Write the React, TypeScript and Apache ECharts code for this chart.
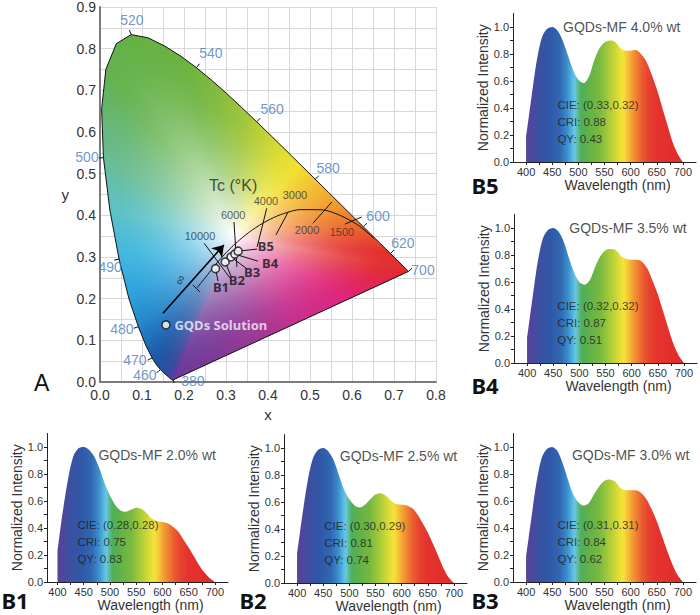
import React, { useEffect, useRef } from 'react';
import * as echarts from 'echarts';

// ---------- CIE 1931 spectral locus (wavelength, x, y) ----------
const locusWl = [380,385,390,395,400,405,410,415,420,425,430,435,440,445,450,455,460,465,470,475,480,485,490,495,500,505,510,515,520,525,530,535,540,545,550,555,560,565,570,575,580,585,590,595,600,605,610,615,620,625,630,635,640,645,650,655,660,665,670,675,680,685,690,695,700];
const locusX = [0.1741,0.1740,0.1738,0.1736,0.1733,0.1730,0.1726,0.1721,0.1714,0.1703,0.1689,0.1669,0.1644,0.1611,0.1566,0.1510,0.1440,0.1355,0.1241,0.1096,0.0913,0.0687,0.0454,0.0235,0.0082,0.0039,0.0139,0.0389,0.0743,0.1142,0.1547,0.1929,0.2296,0.2658,0.3016,0.3373,0.3731,0.4087,0.4441,0.4788,0.5125,0.5448,0.5752,0.6029,0.6270,0.6482,0.6658,0.6801,0.6915,0.7006,0.7079,0.7140,0.7190,0.7230,0.7260,0.7283,0.7300,0.7311,0.7320,0.7327,0.7334,0.7340,0.7344,0.7346,0.7347];
const locusY = [0.0050,0.0050,0.0049,0.0049,0.0048,0.0048,0.0048,0.0048,0.0051,0.0058,0.0069,0.0086,0.0109,0.0138,0.0177,0.0227,0.0297,0.0399,0.0578,0.0868,0.1327,0.2007,0.2950,0.4127,0.5384,0.6548,0.7502,0.8120,0.8338,0.8262,0.8059,0.7816,0.7543,0.7243,0.6923,0.6589,0.6245,0.5896,0.5547,0.5202,0.4866,0.4544,0.4242,0.3965,0.3725,0.3514,0.3340,0.3197,0.3083,0.2993,0.2920,0.2859,0.2809,0.2770,0.2740,0.2717,0.2700,0.2689,0.2680,0.2673,0.2666,0.2660,0.2656,0.2654,0.2653];

// wavelength labels on the locus
const wlLabels = ['380','460','470','480','490','500','520','540','560','580','600','620','700'];
const wlLabelX = [0.221,0.107,0.083,0.052,0.024,-0.031,0.076,0.264,0.410,0.543,0.662,0.721,0.769];
const wlLabelY = [0.002,0.017,0.053,0.127,0.276,0.540,0.868,0.789,0.655,0.513,0.398,0.333,0.269];

// Planckian locus (from infinity down to 1000 K)
const planckX = [0.231,0.2525,0.2565,0.2637,0.2807,0.2952,0.3064,0.3135,0.3221,0.3325,0.3451,0.3608,0.3805,0.4053,0.4369,0.4770,0.5267,0.5540,0.5857,0.6184,0.6528];
const planckY = [0.226,0.2524,0.2577,0.2674,0.2884,0.3048,0.3166,0.3237,0.3318,0.3411,0.3516,0.3636,0.3768,0.3907,0.4041,0.4137,0.4133,0.4070,0.3931,0.3736,0.3444];

// isotemperature ticks
const isoNames = ['∞','10000','6000','4000','3000','2000','1500'];
const isoX1 = [0.221,0.248,0.319,0.397,0.448,0.552,0.623];
const isoY1 = [0.233,0.333,0.384,0.417,0.408,0.432,0.396];
const isoX2 = [0.238,0.310,0.326,0.374,0.419,0.507,0.583];
const isoY2 = [0.216,0.249,0.276,0.324,0.353,0.381,0.379];
const isoLabelX = [0.190,0.238,0.317,0.395,0.464,0.493,0.576];
const isoLabelY = [0.245,0.350,0.400,0.434,0.448,0.365,0.360];

// samples
const sampleNames = ['B1','B2','B3','B4','B5'];
const sampleX = [0.275,0.298,0.312,0.321,0.329];
const sampleY = [0.272,0.288,0.300,0.307,0.314];
const sampleLabelX = [0.288,0.326,0.362,0.405,0.395];
const sampleLabelY = [0.228,0.245,0.264,0.285,0.326];
const leadX2 = [0.281,0.312,0.348,0.376,0.374];
const leadY2 = [0.242,0.254,0.273,0.290,0.319];
const solutionName = 'GQDs Solution';
const solutionX = [0.157];
const solutionY = [0.137];
const arrowX = [0.150, 0.295];
const arrowY = [0.165, 0.329];

// ---------- Emission spectra ----------
const specWl = [400,405,410,420,430,440,450,460,470,480,490,500,510,520,530,540,550,560,570,580,590,600,610,620,630,640,650,660,670,680,690,700];
const specB1 = [0.23,0.38,0.52,0.76,0.93,0.99,1.0,0.98,0.93,0.84,0.73,0.64,0.57,0.53,0.52,0.535,0.55,0.54,0.51,0.47,0.45,0.445,0.435,0.41,0.375,0.315,0.255,0.19,0.125,0.07,0.03,0];
const specB2 = [0.22,0.36,0.50,0.75,0.92,0.985,1.0,0.975,0.91,0.80,0.69,0.62,0.575,0.56,0.58,0.62,0.655,0.665,0.645,0.61,0.585,0.58,0.575,0.555,0.51,0.445,0.375,0.29,0.20,0.11,0.04,0];
const specB3 = [0.19,0.33,0.47,0.74,0.92,0.985,1.0,0.97,0.88,0.76,0.65,0.59,0.565,0.585,0.65,0.71,0.75,0.76,0.745,0.70,0.68,0.68,0.68,0.66,0.615,0.54,0.45,0.34,0.23,0.13,0.05,0];
const specB4 = [0.185,0.33,0.47,0.74,0.92,0.985,1.0,0.975,0.90,0.78,0.67,0.60,0.58,0.615,0.71,0.79,0.835,0.845,0.835,0.79,0.77,0.765,0.765,0.75,0.70,0.61,0.51,0.385,0.26,0.14,0.055,0];
const specB5 = [0.19,0.33,0.47,0.74,0.92,0.985,1.0,0.975,0.90,0.79,0.68,0.61,0.585,0.63,0.75,0.84,0.885,0.90,0.89,0.845,0.825,0.825,0.83,0.80,0.745,0.65,0.54,0.41,0.28,0.15,0.06,0];
const specAll = [specB1, specB2, specB3, specB4, specB5];

const panelTitles = ['GQDs-MF 2.0% wt','GQDs-MF 2.5% wt','GQDs-MF 3.0% wt','GQDs-MF 3.5% wt','GQDs-MF 4.0% wt'];
const panelCIE = ['(0.28,0.28)','(0.30,0.29)','(0.31,0.31)','(0.32,0.32)','(0.33,0.32)'];
const panelCRI = ['0.75','0.81','0.84','0.87','0.88'];
const panelQY = ['0.83','0.74','0.62','0.51','0.43'];

const xTickValues = [400,425,450,475,500,525,550,575,600,625,650,675,700];
const xLabelValues = [400,450,500,550,600,650,700];
const yTickValues = [0,0.1,0.2,0.3,0.4,0.5,0.6,0.7,0.8,0.9,1.0];
const yLabelValues = [0,0.2,0.4,0.6,0.8,1.0];

// ---------- layout / style ----------
const FONT = "'Liberation Sans', Arial, sans-serif";
const BOLD_FONT = "'Noto Sans', 'Open Sans', sans-serif";
const GRID_A = { left: 100, top: 7, width: 336, height: 375 };
const X_MAX = 0.8, Y_MAX = 0.9;
const PANEL_LAYOUT = [
  { left: 47, top: 433.5, width: 181, xmin: 380, titleX: 590, titleY: 0.94, textX: 437, tag: [15, 600] },
  { left: 284, top: 434.5, width: 183, xmin: 375, titleX: 594, titleY: 0.94, textX: 451, tag: [253, 600] },
  { left: 513, top: 433.5, width: 183, xmin: 375, titleX: 600, titleY: 0.94, textX: 459, tag: [485, 600] },
  { left: 514, top: 214.5, width: 183, xmin: 375, titleX: 593, titleY: 1.0, textX: 457, tag: [485, 385] },
  { left: 513, top: 13.5, width: 183, xmin: 375, titleX: 583, titleY: 1.0, textX: 459, tag: [485, 185] },
];

const SPEC_STOPS: [number, string][] = [
  [400,'#5a4199'],[420,'#3f4ea0'],[445,'#2f58a7'],[465,'#3268b2'],[478,'#3b8ccb'],[487,'#4fb3e0'],[493,'#6cc6e2'],
  [498,'#5dbda0'],[505,'#4faf5c'],[515,'#5cb04a'],[540,'#78b940'],[552,'#98c53c'],[565,'#bdd237'],[577,'#e0dd36'],
  [585,'#f4e43a'],[594,'#f5c236'],[602,'#f3a033'],[612,'#ef7e30'],[622,'#ea5c31'],[635,'#e6412f'],[650,'#e4332d'],[700,'#e22b2b'],
];
const CIE_STOPS: [number, string][] = [
  [380,'#6b3a98'],[420,'#5a3c9c'],[440,'#40469f'],[455,'#2d4f9f'],[465,'#1f55a5'],[472,'#1c5fae'],[478,'#1f7cc4'],
  [483,'#2898d6'],[488,'#34ade0'],[492,'#4fbfe0'],[496,'#62c2c0'],[500,'#68bc94'],[505,'#66b672'],[510,'#63b24f'],
  [520,'#64b143'],[535,'#6ab340'],[545,'#7eba3d'],[555,'#9cc43b'],[562,'#bcd038'],[568,'#dadb33'],[574,'#f1e42f'],
  [580,'#f4c530'],[588,'#f1a02f'],[595,'#ee7e2e'],[603,'#ea5a2e'],[612,'#e63d2e'],[620,'#e4302e'],[700,'#e22a2c'],
];
const PURPLE_STOPS: [number, string][] = [
  [0,'#e22a2c'],[0.1,'#e2264a'],[0.25,'#e0247a'],[0.45,'#c9308e'],[0.65,'#9a3a95'],[0.85,'#7a3a97'],[1,'#6b3a98'],
];
const WX = 0.32, WY = 0.35, PEXP = 1.8;

function hex(h: string): number[] {
  const n = parseInt(h.slice(1), 16);
  return [(n >> 16) & 255, (n >> 8) & 255, n & 255];
}
function sample(stops: [number, string][], v: number): number[] {
  if (v <= stops[0][0]) return hex(stops[0][1]);
  for (let i = 1; i < stops.length; i++) {
    if (v <= stops[i][0]) {
      const t = (v - stops[i - 1][0]) / (stops[i][0] - stops[i - 1][0]);
      const a = hex(stops[i - 1][1]), b = hex(stops[i][1]);
      return a.map((c, k) => c + (b[k] - c) * t);
    }
  }
  return hex(stops[stops.length - 1][1]);
}

function buildCieImage(): string {
  const S = 2;
  const cw = Math.round(GRID_A.width * S), ch = Math.round(GRID_A.height * S);
  const canvas = document.createElement('canvas');
  canvas.width = cw; canvas.height = ch;
  const ctx = canvas.getContext('2d');
  if (!ctx) return '';
  const bx: number[] = [], by: number[] = [], bc: number[][] = [];
  for (let i = 0; i < locusWl.length; i++) {
    bx.push(locusX[i]); by.push(locusY[i]); bc.push(sample(CIE_STOPS, locusWl[i]));
  }
  const last = locusWl.length - 1;
  const NP = 30;
  for (let k = 1; k < NP; k++) {
    const t = k / NP;
    bx.push(locusX[last] + (locusX[0] - locusX[last]) * t);
    by.push(locusY[last] + (locusY[0] - locusY[last]) * t);
    bc.push(sample(PURPLE_STOPS, t));
  }
  const nb = bx.length;
  const NA = 4096;
  const dist = new Float32Array(NA);
  const col = new Float32Array(NA * 3);
  for (let a = 0; a < NA; a++) {
    const ang = (a + 0.5) / NA * Math.PI * 2 - Math.PI;
    const dx = Math.cos(ang), dy = Math.sin(ang);
    let best = Infinity;
    let c = [255, 255, 255];
    for (let e = 0; e < nb; e++) {
      const j = (e + 1) % nb;
      const ex = bx[j] - bx[e], ey = by[j] - by[e];
      const den = dx * ey - dy * ex;
      if (Math.abs(den) < 1e-14) continue;
      const qx = bx[e] - WX, qy = by[e] - WY;
      const s = (qx * ey - qy * ex) / den;
      const u = (qx * dy - qy * dx) / den;
      if (s > 0 && u >= -1e-9 && u <= 1 + 1e-9 && s < best) {
        best = s;
        c = [0, 1, 2].map(k => bc[e][k] + (bc[j][k] - bc[e][k]) * u);
      }
    }
    dist[a] = best;
    col[a * 3] = c[0]; col[a * 3 + 1] = c[1]; col[a * 3 + 2] = c[2];
  }
  const img = ctx.createImageData(cw, ch);
  const d = img.data;
  const ppu = cw / X_MAX;
  for (let py = 0; py < ch; py++) {
    const y = Y_MAX - (py + 0.5) / ch * Y_MAX;
    for (let px = 0; px < cw; px++) {
      const x = (px + 0.5) / cw * X_MAX;
      const dx = x - WX, dy = y - WY;
      const dd = Math.hypot(dx, dy);
      let a = Math.floor((Math.atan2(dy, dx) + Math.PI) / (2 * Math.PI) * NA);
      if (a >= NA) a = NA - 1;
      if (a < 0) a = 0;
      const D = dist[a];
      const alpha = Math.max(0, Math.min(1, (D - dd) * ppu + 0.5));
      if (alpha <= 0) continue;
      const r = Math.min(1, dd / D);
      const f = 1 - Math.pow(1 - r, PEXP);
      const o = (py * cw + px) * 4;
      d[o] = 255 + (col[a * 3] - 255) * f;
      d[o + 1] = 255 + (col[a * 3 + 1] - 255) * f;
      d[o + 2] = 255 + (col[a * 3 + 2] - 255) * f;
      d[o + 3] = alpha * 255;
    }
  }
  ctx.putImageData(img, 0, 0);
  return canvas.toDataURL('image/png');
}

function textScatter(axisIndex: number, items: any[], label: any, z = 8): any {
  return {
    type: 'scatter', xAxisIndex: axisIndex, yAxisIndex: axisIndex, silent: true, clip: false, z,
    symbol: 'circle', symbolSize: 1, itemStyle: { color: 'rgba(0,0,0,0)' },
    data: items,
    label: Object.assign({ show: true, formatter: '{b}', fontFamily: FONT }, label),
  };
}

function buildOption(cieUrl: string): any {
  const grids: any[] = [Object.assign({}, GRID_A)];
  const xAxes: any[] = [];
  const yAxes: any[] = [];
  const series: any[] = [];
  const graphics: any[] = [];

  // ---- panel A axes ----
  xAxes.push({
    gridIndex: 0, type: 'value', min: 0, max: X_MAX, interval: 0.1,
    axisLine: { show: true, onZero: false, lineStyle: { color: '#7a7a7a', width: 2 } },
    axisTick: { show: false },
    minorTick: { show: false, splitNumber: 2 },
    axisLabel: { fontSize: 14, color: '#333', margin: 6, fontFamily: FONT, formatter: (v: number) => v.toFixed(1) },
    splitLine: { show: true, lineStyle: { color: '#d8d8d8', width: 1 } },
    minorSplitLine: { show: true, lineStyle: { color: '#d8d8d8', width: 1 } },
    name: 'x', nameLocation: 'middle', nameGap: 18,
    nameTextStyle: { fontSize: 15, color: '#333', fontFamily: FONT },
  });
  yAxes.push({
    gridIndex: 0, type: 'value', min: 0, max: Y_MAX, interval: 0.1,
    axisLine: { show: true, onZero: false, lineStyle: { color: '#7a7a7a', width: 2 } },
    axisTick: { show: false },
    minorTick: { show: false, splitNumber: 2 },
    axisLabel: { fontSize: 14, color: '#333', margin: 4, fontFamily: FONT, formatter: (v: number) => v.toFixed(1) },
    splitLine: { show: true, lineStyle: { color: '#d8d8d8', width: 1 } },
    minorSplitLine: { show: true, lineStyle: { color: '#d8d8d8', width: 1 } },
    name: 'y', nameLocation: 'middle', nameGap: 31, nameRotate: 0,
    nameTextStyle: { fontSize: 15, color: '#333', fontFamily: FONT },
  });

  // ---- CIE coloured area ----
  series.push({
    type: 'custom', xAxisIndex: 0, yAxisIndex: 0, silent: true, z: 1,
    data: [[0, 0]],
    renderItem: (_p: any, api: any) => {
      const p0 = api.coord([0, Y_MAX]);
      const p1 = api.coord([X_MAX, 0]);
      return { type: 'image', style: { image: cieUrl, x: p0[0], y: p0[1], width: p1[0] - p0[0], height: p1[1] - p0[1] } };
    },
  });

  // ---- locus outline ----
  const outline = locusWl.map((_, i) => [locusX[i], locusY[i]]);
  outline.push([locusX[0], locusY[0]]);
  series.push({
    type: 'line', xAxisIndex: 0, yAxisIndex: 0, silent: true, z: 3, symbol: 'none',
    data: outline, lineStyle: { color: '#111', width: 1 },
  });

  // wavelength ticks (outward normals)
  const tickSegs = wlLabels.map(l => {
    const w = +l;
    const i = locusWl.indexOf(w);
    const i0 = Math.max(0, i - 2), i1 = Math.min(locusWl.length - 1, i + 2);
    const tx = locusX[i1] - locusX[i0], ty = locusY[i1] - locusY[i0];
    const len = Math.hypot(tx, ty) || 1;
    const nx = -ty / len, ny = tx / len;
    const L = 0.012;
    return { coords: [[locusX[i], locusY[i]], [locusX[i] + nx * L, locusY[i] + ny * L]] };
  });
  series.push({
    type: 'lines', coordinateSystem: 'cartesian2d', xAxisIndex: 0, yAxisIndex: 0, silent: true, z: 3,
    data: tickSegs, lineStyle: { color: '#111', width: 1, opacity: 1 },
  });

  // Planckian locus
  series.push({
    type: 'line', xAxisIndex: 0, yAxisIndex: 0, silent: true, z: 4, symbol: 'none', smooth: 0.3,
    data: planckX.map((x, i) => [x, planckY[i]]), lineStyle: { color: '#111', width: 1 },
  });

  // isotherms + leader lines
  const segs: any[] = isoNames.map((_, i) => ({ coords: [[isoX1[i], isoY1[i]], [isoX2[i], isoY2[i]]] }));
  sampleNames.forEach((_, i) => segs.push({ coords: [[sampleX[i], sampleY[i]], [leadX2[i], leadY2[i]]] }));
  series.push({
    type: 'lines', coordinateSystem: 'cartesian2d', xAxisIndex: 0, yAxisIndex: 0, silent: true, z: 4,
    data: segs, lineStyle: { color: '#111', width: 1, opacity: 1 },
  });

  // arrow
  series.push({
    type: 'lines', coordinateSystem: 'cartesian2d', xAxisIndex: 0, yAxisIndex: 0, silent: true, z: 5,
    symbol: ['none', 'arrow'], symbolSize: 11,
    data: [{ coords: [[arrowX[0], arrowY[0]], [arrowX[1], arrowY[1]]] }],
    lineStyle: { color: '#000', width: 1.6, opacity: 1 },
  });

  // sample points
  series.push({
    type: 'scatter', xAxisIndex: 0, yAxisIndex: 0, silent: true, z: 6, symbol: 'circle', symbolSize: 8,
    data: sampleX.map((x, i) => [x, sampleY[i]]).concat([[solutionX[0], solutionY[0]]]),
    itemStyle: { color: '#fff', borderColor: '#111', borderWidth: 1.5 },
  });

  // labels in panel A
  series.push(textScatter(0, wlLabels.map((l, i) => ({ value: [wlLabelX[i], wlLabelY[i]], name: l })),
    { position: 'inside', fontSize: 14, color: '#4a7bbd' }));
  series.push(textScatter(0, isoNames.map((l, i) => ({
    value: [isoLabelX[i], isoLabelY[i]], name: l,
    label: l === '∞' ? { rotate: 65, fontSize: 13, color: '#222' } : undefined,
  })), { position: 'inside', fontSize: 11, color: '#333' }));
  series.push(textScatter(0, [{ value: [0.317, 0.472], name: 'Tc (°K)' }],
    { position: 'inside', fontSize: 16, color: '#222' }));
  series.push(textScatter(0, sampleNames.map((l, i) => ({ value: [sampleLabelX[i], sampleLabelY[i]], name: l })),
    { position: 'inside', fontSize: 13, lineHeight: 13, fontWeight: 'bold', color: '#111', fontFamily: BOLD_FONT }));
  series.push(textScatter(0, [{ value: [solutionX[0] + 0.019, solutionY[0]], name: solutionName }],
    { position: 'right', distance: 0, fontSize: 13, fontWeight: 'bold', color: '#f4f2fa', fontFamily: BOLD_FONT }));

  graphics.push({
    type: 'text', left: 34, top: 371,
    style: { text: 'A', fontSize: 23, fontFamily: FONT, fill: '#111' },
  });

  // ---- spectrum panels ----
  const gradStops = SPEC_STOPS.map(([w, c]) => ({ offset: (w - 400) / 300, color: c }));
  PANEL_LAYOUT.forEach((p, k) => {
    const gi = k + 1;
    grids.push({ left: p.left, top: p.top, width: p.width, height: 148.5 });
    xAxes.push({
      gridIndex: gi, type: 'value', min: p.xmin, max: 725,
      axisLine: { show: true, onZero: false, lineStyle: { color: '#222', width: 1 } },
      axisTick: { show: true, customValues: xTickValues, length: 3, lineStyle: { color: '#222' } },
      axisLabel: { customValues: xLabelValues, fontSize: 11, color: '#333', margin: 4, fontFamily: FONT },
      splitLine: { show: false },
      name: 'Wavelength (nm)', nameLocation: 'middle', nameGap: 16,
      nameTextStyle: { fontSize: 14, color: '#333', fontFamily: FONT, padding: [0, 0, 0, 26] },
    });
    yAxes.push({
      gridIndex: gi, type: 'value', min: 0, max: 1.1,
      axisLine: { show: true, onZero: false, lineStyle: { color: '#222', width: 1 } },
      axisTick: { show: true, customValues: yTickValues, length: 3, lineStyle: { color: '#222' } },
      axisLabel: { customValues: yLabelValues, fontSize: 11, color: '#333', margin: 4, fontFamily: FONT, formatter: (v: number) => v.toFixed(1) },
      splitLine: { show: false },
      name: 'Normalized Intensity', nameLocation: 'middle', nameGap: 22,
      nameTextStyle: { fontSize: 14, color: '#333', fontFamily: FONT },
    });
    series.push({
      type: 'line', xAxisIndex: gi, yAxisIndex: gi, silent: true, z: 2, symbol: 'none', smooth: 0.3,
      data: specWl.map((w, i) => [w, specAll[k][i]]),
      lineStyle: { width: 0 },
      areaStyle: { opacity: 1, color: new echarts.graphic.LinearGradient(0, 0, 1, 0, gradStops) },
    });
    series.push(textScatter(gi, [{ value: [p.titleX, p.titleY], name: panelTitles[k] }],
      { position: 'inside', fontSize: 14, color: '#222' }));
    series.push(textScatter(gi, [
      { value: [p.textX, 0.42], name: 'CIE: ' + panelCIE[k] },
      { value: [p.textX, 0.295], name: 'CRI: ' + panelCRI[k] },
      { value: [p.textX, 0.17], name: 'QY: ' + panelQY[k] },
    ], { position: 'right', distance: 0, fontSize: 11.5, color: '#1b1b22', fontFamily: FONT }));
    graphics.push({
      type: 'text', x: p.tag[0], y: p.tag[1],
      style: {
        text: sampleNames[k], fontSize: 22, lineHeight: 20, fontWeight: 'bold', fontFamily: BOLD_FONT, fill: '#111',
        align: 'center', verticalAlign: 'middle', textAlign: 'center', textVerticalAlign: 'middle',
      },
    });
  });

  return {
    animation: false,
    backgroundColor: '#ffffff',
    textStyle: { fontFamily: FONT },
    grid: grids,
    xAxis: xAxes,
    yAxis: yAxes,
    series,
    graphic: graphics,
  };
}

export default function App() {
  const ref = useRef<HTMLDivElement>(null);
  useEffect(() => {
    if (!ref.current) return;
    const chart = echarts.init(ref.current, undefined, { renderer: 'svg' });
    const url = buildCieImage();
    chart.setOption(buildOption(url));
    return () => chart.dispose();
  }, []);
  return (
    <div
      ref={ref}
      style={{ position: 'absolute', left: 0, top: 0, width: 700, height: 615, background: '#fff' }}
    />
  );
}
